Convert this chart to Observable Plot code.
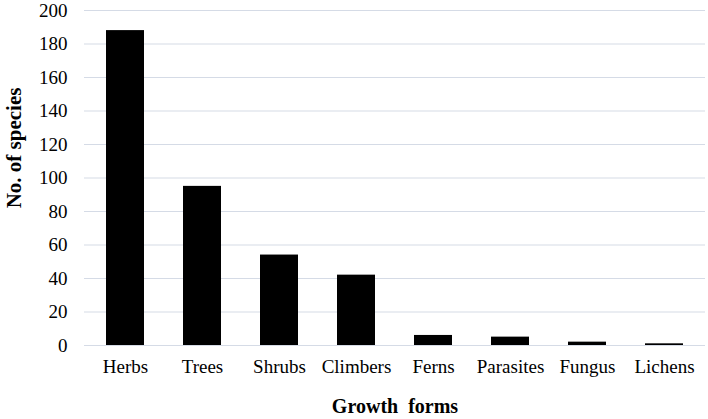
<!DOCTYPE html>
<html>
<head>
<meta charset="utf-8">
<script src="https://cdn.jsdelivr.net/npm/d3@7"></script>
<script src="https://cdn.jsdelivr.net/npm/@observablehq/plot@0.6"></script>
<style>
  html, body { margin: 0; padding: 0; background: #fff; }
</style>
</head>
<body>
<div id="chart"></div>
<script>
const categories = ["Herbs", "Trees", "Shrubs", "Climbers", "Ferns", "Parasites", "Fungus", "Lichens"];
const species = [188, 95, 54, 42, 6, 5, 2, 1];
const yTicks = [0, 20, 40, 60, 80, 100, 120, 140, 160, 180, 200];
const xTitle = "Growth  forms";
const yTitle = "No. of species";

const data = categories.map((c, i) => ({form: c, count: species[i]}));
const serif = "Liberation Serif";

const chart = Plot.plot({
  width: 708,
  height: 419,
  marginLeft: 84,
  marginRight: 3,
  marginTop: 10,
  marginBottom: 74,
  style: {fontFamily: serif, fontSize: "19px", color: "#000", background: "#fff"},
  x: {domain: categories, paddingInner: 0.51, paddingOuter: 0.265, label: null},
  y: {domain: [0, 200], label: null},
  marks: [
    Plot.gridY(yTicks, {stroke: "#d5dbe6", strokeOpacity: 1, strokeWidth: 1.2}),
    Plot.axisY(yTicks, {tickSize: 0, tickPadding: 17, fontSize: 19, fontFamily: serif, label: null}),
    Plot.axisX({tickSize: 0, tickPadding: 14, fontSize: 19, fontFamily: serif, label: null}),
    Plot.barY(data, {x: "form", y: "count", fill: "#000"}),
    Plot.text([yTitle], {frameAnchor: "left", dx: -70, dy: -30, rotate: -90, textAnchor: "middle", fontSize: 21, fontWeight: "bold", fontFamily: serif, fill: "#000"}),
    Plot.text([xTitle], {frameAnchor: "bottom", dy: 67, textAnchor: "middle", fontSize: 20, fontWeight: "bold", fontFamily: serif, fill: "#000"})
  ]
});
d3.select(chart).selectAll("text, g").style("font-family", "'Liberation Serif', 'Times New Roman', serif");
d3.select(chart).selectAll("text").style("font-variant", "normal");
document.getElementById("chart").appendChild(chart);
</script>
</body>
</html>
